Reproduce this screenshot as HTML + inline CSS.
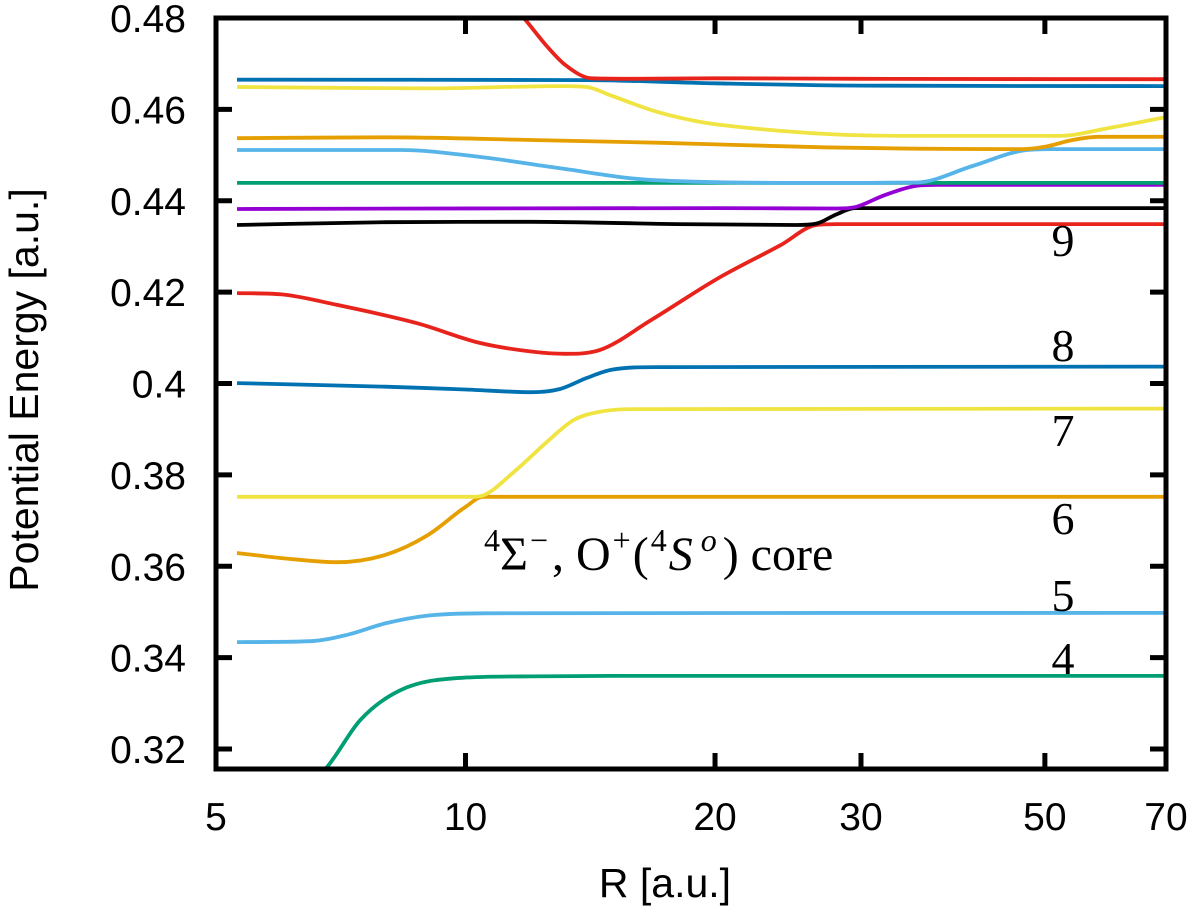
<!DOCTYPE html>
<html><head><meta charset="utf-8"><style>
html,body{margin:0;padding:0;background:#fff;}
svg{display:block;}
.tl{font-family:"Liberation Sans",sans-serif;font-size:39px;fill:#000;}
.ti{font-family:"Liberation Sans",sans-serif;font-size:41px;fill:#000;}
.sr{font-family:"Liberation Serif",serif;font-size:46px;fill:#000;}
.an{font-family:"Liberation Serif",serif;font-size:48px;fill:#000;}
</style></head><body>
<svg id="chart" width="1200" height="910" viewBox="0 0 1200 910">
<defs><clipPath id="pc"><rect x="216" y="18" width="950" height="751"/></clipPath></defs>
<g id="curves" clip-path="url(#pc)"></g>
<g id="axes"></g>
</svg>
<script>
const xTicks=[5,10,20,30,50,70];
const yTicks=[0.32,0.34,0.36,0.38,0.40,0.42,0.44,0.46,0.48];
const yTickLabels=["0.32","0.34","0.36","0.38","0.4","0.42","0.44","0.46","0.48"];
const stateLabels=["4","5","6","7","8","9"];
const stateLabelE=[0.3399,0.3537,0.3706,0.3898,0.4084,0.4314];
// series: R values and energies
const green1R=[5.3,6.0,6.78,7.47,8.35,9.9,12,15,70];
const green1E=[0.300,0.308,0.3157,0.3264,0.3329,0.3356,0.3359,0.3360,0.3360];
const lblue1R=[5.3,6.5,7.2,8,9,10.5,70];
const lblue1E=[0.3434,0.3436,0.3450,0.3475,0.3492,0.3497,0.3498];
const orange1R=[5.3,6,7,8,9,10,10.5,11.2,70];
const orange1E=[0.3629,0.3618,0.3609,0.3625,0.3668,0.3730,0.3752,0.3752,0.3752];
const yellow1R=[5.3,10.2,10.5,11.5,12.5,13.5,14.5,16,70];
const yellow1E=[0.3752,0.3752,0.3755,0.3810,0.3870,0.3920,0.3938,0.3944,0.3945];
const blue1R=[5.3,8,10,12,13,14,15,17,70];
const blue1E=[0.4001,0.3993,0.3987,0.3981,0.3988,0.4012,0.4030,0.4036,0.4037];
const red1R=[5.3,6.0,7.0,8.74,10.4,12,13.2,14.5,16.75,20.2,24.0,26.5,28,70];
const red1E=[0.4198,0.4195,0.4172,0.4132,0.4089,0.4070,0.4065,0.4073,0.4139,0.4231,0.4303,0.4347,0.4349,0.4349];
const blackR=[5.3,8,12,18,25,26.5,28,29.5,31,70];
const blackE=[0.4347,0.4353,0.4354,0.4349,0.4347,0.4350,0.4370,0.4384,0.4384,0.4384];
const purpleR=[5.3,20,28,29.5,32,35,37,70];
const purpleE=[0.4382,0.4384,0.4383,0.4386,0.4412,0.4433,0.4435,0.4435];
const green2R=[5.3,70];
const green2E=[0.4439,0.4439];
const lblue2R=[5.3,8.35,10.4,12.9,16.9,26.8,35,40.9,47.1,51,70];
const lblue2E=[0.4511,0.4511,0.4496,0.4472,0.4445,0.4439,0.4440,0.4476,0.4510,0.4513,0.4513];
const orange2R=[5.3,8,12,17,27,35,47,50,54,58,70];
const orange2E=[0.4537,0.4539,0.4533,0.4527,0.4517,0.4514,0.4513,0.4518,0.4533,0.4540,0.4540];
const yellow2R=[5.3,9,13,14,15,17,19.3,24,28,35,52,60,70];
const yellow2E=[0.4649,0.4646,0.4651,0.4649,0.4630,0.4595,0.4572,0.4553,0.4545,0.4542,0.4542,0.4560,0.4583];
const blue2R=[5.3,14,20,30,70];
const blue2E=[0.4665,0.4664,0.4657,0.4652,0.4651];
const red2R=[10.5,11.76,12.5,13.2,14.2,16,20,30,70];
const red2E=[0.490,0.4800,0.4741,0.4697,0.4668,0.4667,0.4668,0.4667,0.4666];
const series=[
 ["state-4-lower",green1R,green1E,"#009e73"],["state-5-lower",lblue1R,lblue1E,"#56b4e9"],
 ["state-6-lower",orange1R,orange1E,"#e69f00"],["state-7-lower",yellow1R,yellow1E,"#f0e442"],
 ["state-8-lower",blue1R,blue1E,"#0072b2"],["state-9-lower",red1R,red1E,"#e8231b"],
 ["black-curve",blackR,blackE,"#000000"],["purple-curve",purpleR,purpleE,"#9400d3"],
 ["green-upper",green2R,green2E,"#009e73"],["lightblue-upper",lblue2R,lblue2E,"#56b4e9"],
 ["orange-upper",orange2R,orange2E,"#e69f00"],["yellow-upper",yellow2R,yellow2E,"#f0e442"],
 ["blue-upper",blue2R,blue2E,"#0072b2"],["red-upper",red2R,red2E,"#e8231b"]];
const X0=216,X1=1166,Y0=18,Y1=769;
const xs=r=>X0+(Math.log10(r)-Math.log10(5))/(Math.log10(70)-Math.log10(5))*(X1-X0);
const ys=e=>Y0+(0.48-e)*4569;
const NS="http://www.w3.org/2000/svg";
function mk(t,a,p){const el=document.createElementNS(NS,t);for(const k in a)el.setAttribute(k,a[k]);p.appendChild(el);return el;}
function monotone(px,py){
 const n=px.length;if(n<3){return "M"+px.map((x,i)=>x.toFixed(1)+","+py[i].toFixed(1)).join("L");}
 const d=[],m=[];for(let i=0;i<n-1;i++)d.push((py[i+1]-py[i])/(px[i+1]-px[i]));
 m[0]=d[0];m[n-1]=d[n-2];
 for(let i=1;i<n-1;i++){m[i]=(d[i-1]*d[i]<=0)?0:(d[i-1]+d[i])/2;}
 for(let i=0;i<n-1;i++){if(d[i]===0){m[i]=0;m[i+1]=0;continue;}const a=m[i]/d[i],b=m[i+1]/d[i],s=a*a+b*b;if(s>9){const t=3/Math.sqrt(s);m[i]=t*a*d[i];m[i+1]=t*b*d[i];}}
 let s="M"+px[0].toFixed(1)+","+py[0].toFixed(1);
 for(let i=0;i<n-1;i++){const h=(px[i+1]-px[i])/3;s+="C"+(px[i]+h).toFixed(1)+","+(py[i]+m[i]*h).toFixed(1)+" "+(px[i+1]-h).toFixed(1)+","+(py[i+1]-m[i+1]*h).toFixed(1)+" "+px[i+1].toFixed(1)+","+py[i+1].toFixed(1);}
 return s;}
const cg=document.getElementById("curves");
series.forEach(([nm,R,E,c])=>{
 const p=mk("path",{d:monotone(R.map(xs),E.map(ys)),fill:"none",stroke:c,"stroke-width":3.8},cg);
 
 
});
const ax=document.getElementById("axes");
const fr=mk("rect",{x:X0,y:Y0,width:X1-X0,height:Y1-Y0,fill:"none",stroke:"#000","stroke-width":5},ax);


yTicks.forEach((v,i)=>{const y=ys(v);
 const t=mk("path",{d:`M${X0},${y}h16M${X1},${y}h-16`,stroke:"#000","stroke-width":5},ax);
 
 
 const l=mk("text",{x:186,y:y+14,"text-anchor":"end",class:"tl"},ax);l.textContent=yTickLabels[i];
 
 });
xTicks.forEach(v=>{const x=xs(v);
 const t=mk("path",{d:`M${x},${Y1}v-16M${x},${Y0}v16`,stroke:"#000","stroke-width":5},ax);
 
 
 const l=mk("text",{x:x,y:830,"text-anchor":"middle",class:"tl"},ax);l.textContent=String(v);
 
 });
stateLabels.forEach((s,i)=>{const l=mk("text",{x:1063,y:ys(stateLabelE[i])+16,"text-anchor":"middle",class:"sr"},ax);l.textContent=s;
 
 });
</script>
<svg style="position:absolute;left:0;top:0" width="1200" height="910">
<text x="665" y="897" text-anchor="middle" class="ti">R [a.u.]</text>
<text transform="translate(38,390) rotate(-90)" text-anchor="middle" class="ti">Potential Energy [a.u.]</text>
<text x="484" y="570" class="an"><tspan font-size="32" dy="-19">4</tspan><tspan dy="19">Σ</tspan><tspan font-size="32" dy="-19" dx="2">−</tspan><tspan dy="19" dx="4">, O</tspan><tspan font-size="32" dy="-19" dx="2">+</tspan><tspan dy="19" dx="2">(</tspan><tspan font-size="32" dy="-19" dx="2">4</tspan><tspan dy="19" dx="2" font-style="italic">S</tspan><tspan font-size="32" dy="-19" dx="8" font-style="italic">o</tspan><tspan dy="19" dx="6">) core</tspan></text>
</svg>
</body></html>
